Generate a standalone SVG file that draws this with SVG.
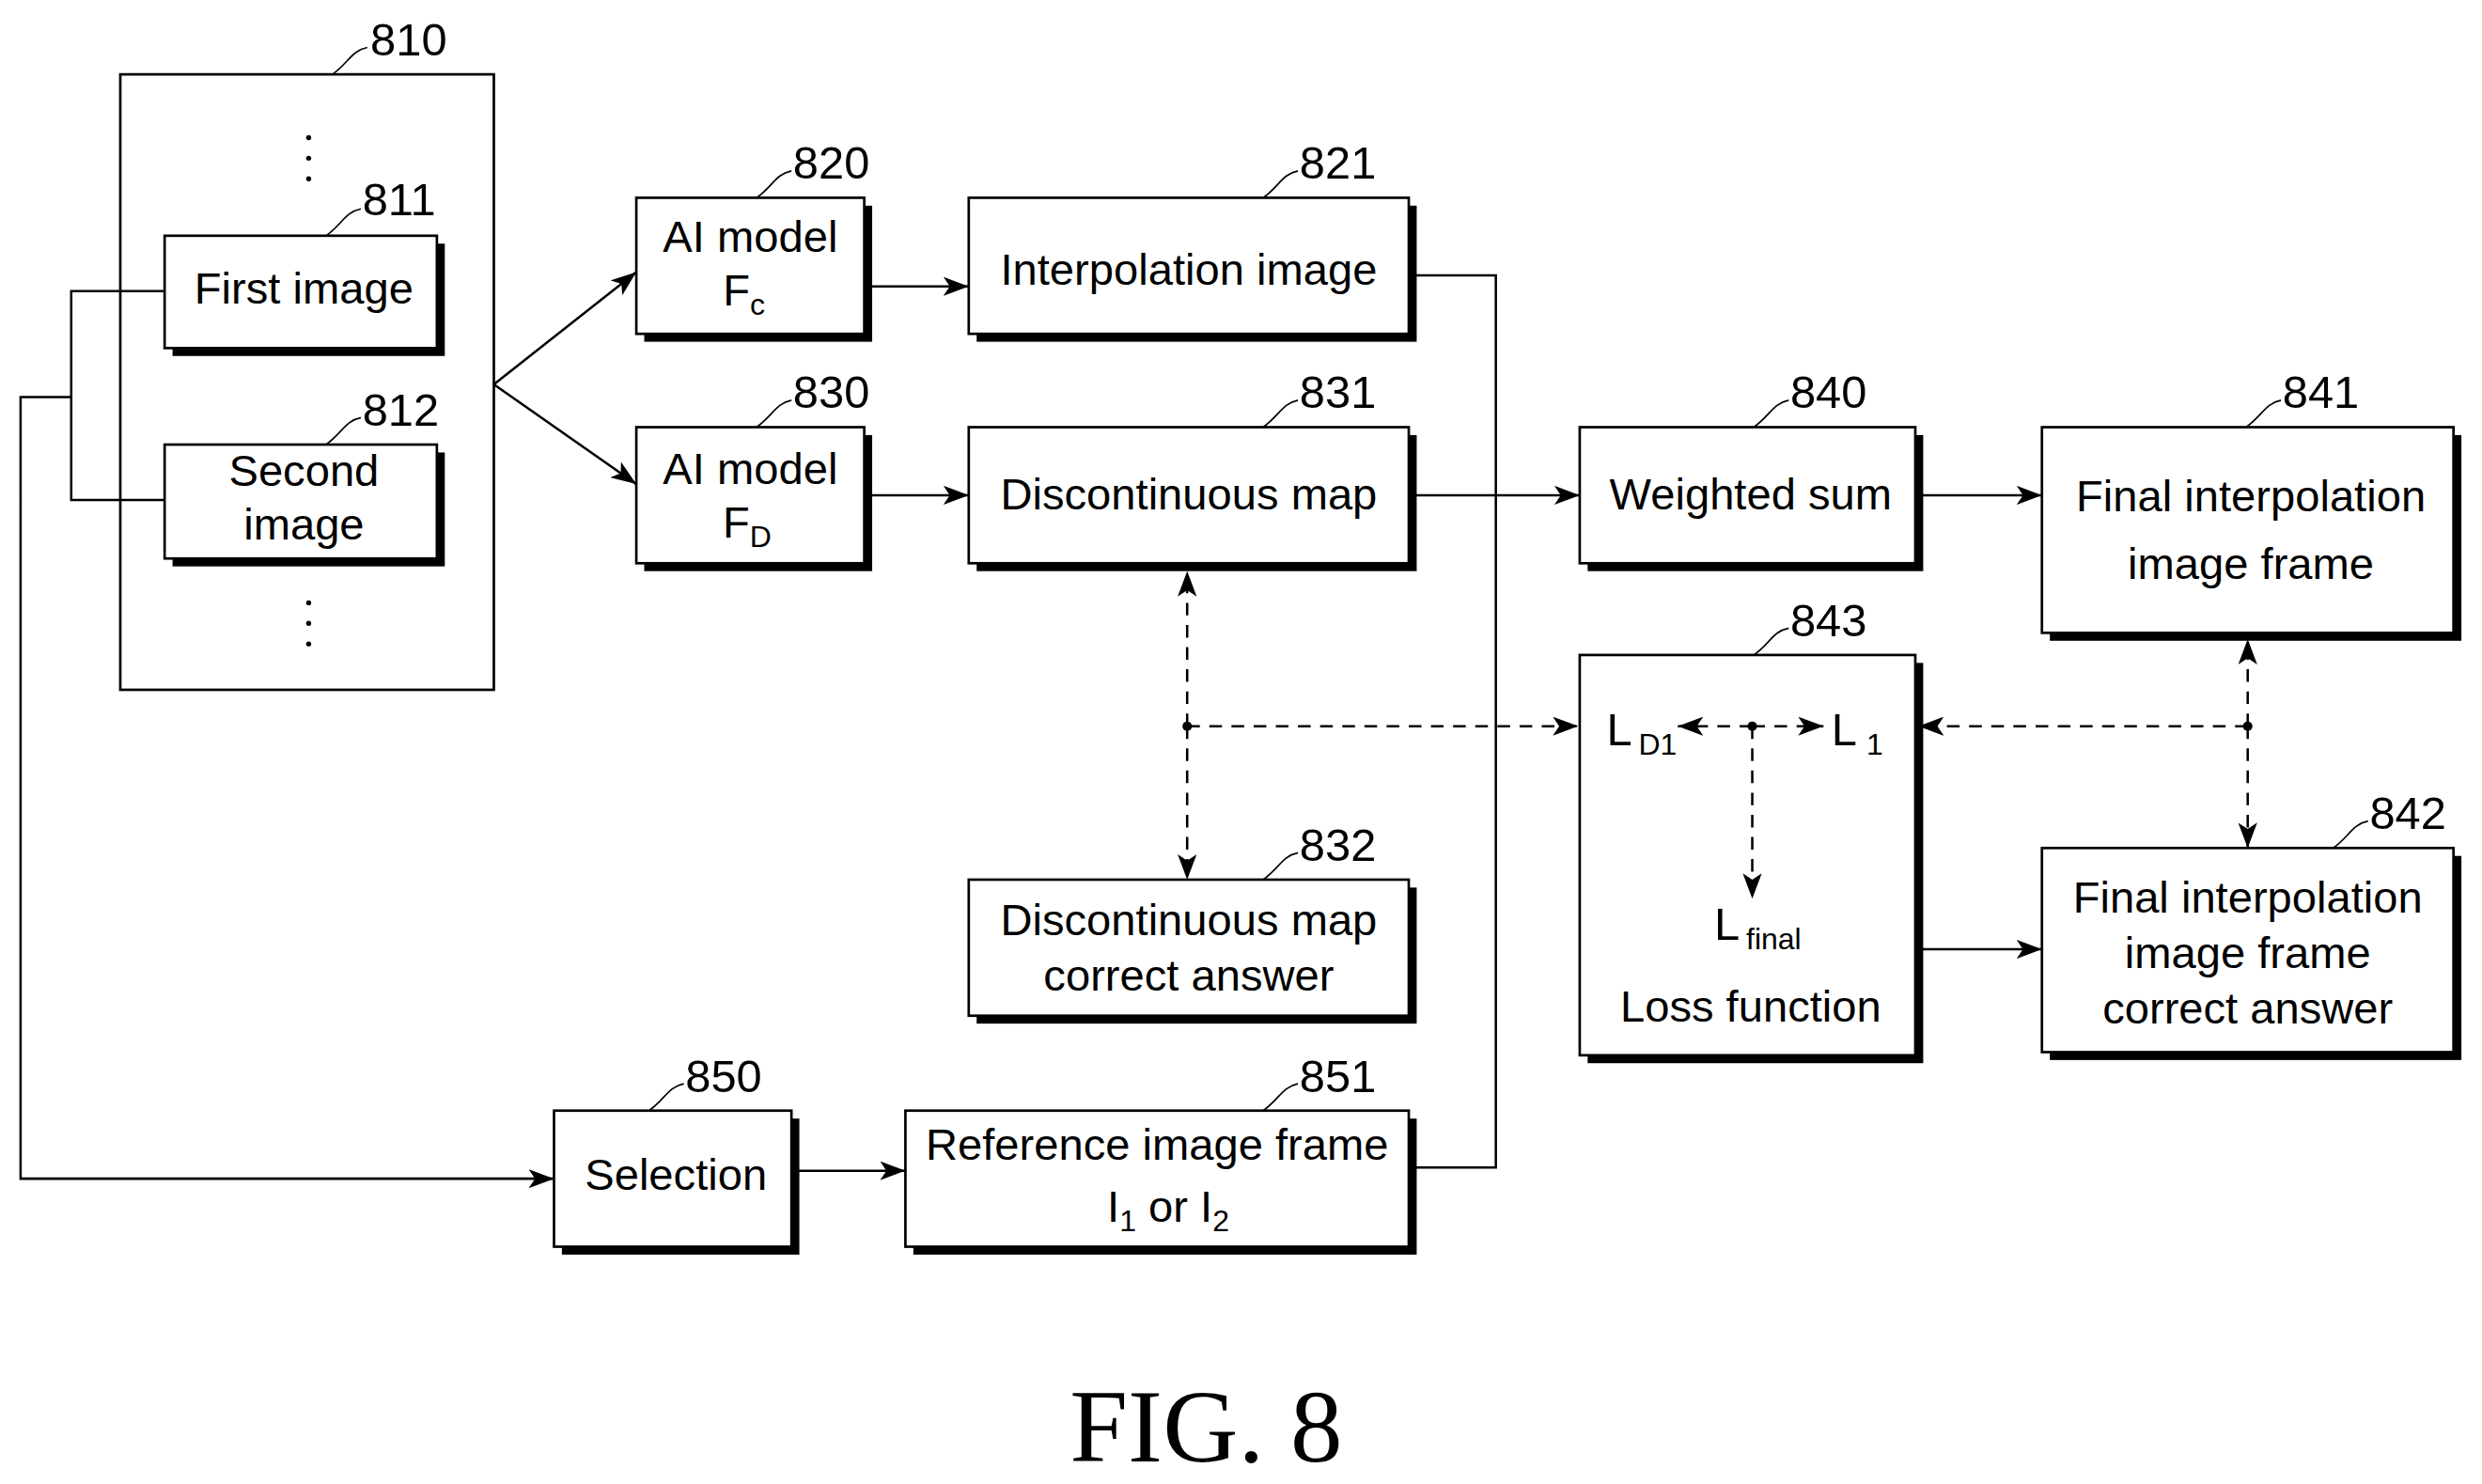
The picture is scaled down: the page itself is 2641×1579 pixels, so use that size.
<svg xmlns="http://www.w3.org/2000/svg" width="2641" height="1579" viewBox="0 0 2641 1579">
<style>
.t{font-family:"Liberation Sans Narrow","Liberation Sans",Arial,sans-serif;font-size:28px;fill:#000;text-anchor:middle}
.n{font-family:"Liberation Sans Narrow","Liberation Sans",Arial,sans-serif;font-size:29px;fill:#000}
.b{fill:#fff;stroke:#000;stroke-width:1.6}
.s{fill:#000}
.l{fill:none;stroke:#000;stroke-width:1.5}
.d{fill:none;stroke:#000;stroke-width:1.5;stroke-dasharray:8,6}
.ld{fill:none;stroke:#000;stroke-width:1}
</style>
<defs>
<marker id="a" viewBox="0 0 16 12" refX="16" refY="6" markerWidth="16" markerHeight="12" markerUnits="userSpaceOnUse" orient="auto-start-reverse"><path d="M0,0 L16,6 L0,12 L4,6 Z" fill="#000"/></marker>
</defs>
<rect width="2641" height="1579" fill="#fff"/>
<g transform="scale(1.6843,1.6834)">
<g id="n810">
<rect class="b" x="76" y="47" width="236" height="389"/>
<path class="ld" d="M210,47 C220,40 222,32 232,30"/><text class="n" x="234" y="35">810</text>
<g class="s"><circle cx="195" cy="87" r="1.6"/><circle cx="195" cy="100" r="1.6"/><circle cx="195" cy="113" r="1.6"/><circle cx="195" cy="381" r="1.6"/><circle cx="195" cy="394" r="1.6"/><circle cx="195" cy="407" r="1.6"/></g>
</g>
<g id="n811"><rect class="s" x="109" y="154" width="172" height="71"/><rect class="b" x="104" y="149" width="172" height="71"/><text class="t" x="192" y="192">First image</text>
<path class="ld" d="M206,149 C216,142 218,134 228,132"/><text class="n" x="229" y="136">811</text></g>
<g id="n812"><rect class="s" x="109" y="286" width="172" height="72"/><rect class="b" x="104" y="281" width="172" height="72"/><text class="t" x="192" y="307">Second</text><text class="t" x="192" y="341">image</text>
<path class="ld" d="M206,281 C216,274 218,266 228,264"/><text class="n" x="229" y="269">812</text></g>
<g id="n820"><rect class="s" x="407" y="130" width="144" height="86"/><rect class="b" x="402" y="125" width="144" height="86"/><text class="t" x="474" y="159">AI model</text><text class="t" x="470" y="193">F<tspan font-size="19" dy="6">c</tspan></text>
<path class="ld" d="M478,125 C488,118 490,110 500,108"/><text class="n" x="501" y="113">820</text></g>
<g id="n830"><rect class="s" x="407" y="275" width="144" height="86"/><rect class="b" x="402" y="270" width="144" height="86"/><text class="t" x="474" y="306">AI model</text><text class="t" x="472" y="340">F<tspan font-size="19" dy="6">D</tspan></text>
<path class="ld" d="M478,270 C488,263 490,255 500,253"/><text class="n" x="501" y="258">830</text></g>
<g id="n821"><rect class="s" x="617" y="130" width="278" height="86"/><rect class="b" x="612" y="125" width="278" height="86"/><text class="t" x="751" y="180">Interpolation image</text>
<path class="ld" d="M798,125 C808,118 810,110 820,108"/><text class="n" x="821" y="113">821</text></g>
<g id="n831"><rect class="s" x="617" y="275" width="278" height="86"/><rect class="b" x="612" y="270" width="278" height="86"/><text class="t" x="751" y="322">Discontinuous map</text>
<path class="ld" d="M798,270 C808,263 810,255 820,253"/><text class="n" x="821" y="258">831</text></g>
<g id="n832"><rect class="s" x="617" y="561" width="278" height="86"/><rect class="b" x="612" y="556" width="278" height="86"/><text class="t" x="751" y="591">Discontinuous map</text><text class="t" x="751" y="626">correct answer</text>
<path class="ld" d="M798,556 C808,549 810,541 820,539"/><text class="n" x="821" y="544">832</text></g>
<g id="n840"><rect class="s" x="1003" y="275" width="212" height="86"/><rect class="b" x="998" y="270" width="212" height="86"/><text class="t" x="1106" y="322">Weighted sum</text>
<path class="ld" d="M1108,270 C1118,263 1120,255 1130,253"/><text class="n" x="1131" y="258">840</text></g>
<g id="n841"><rect class="s" x="1295" y="275" width="260" height="130"/><rect class="b" x="1290" y="270" width="260" height="130"/><text class="t" x="1422" y="323">Final interpolation</text><text class="t" x="1422" y="366">image frame</text>
<path class="ld" d="M1419,270 C1429,263 1431,255 1441,253"/><text class="n" x="1442" y="258">841</text></g>
<g id="n843"><rect class="s" x="1003" y="419" width="212" height="253"/><rect class="b" x="998" y="414" width="212" height="253"/>
<text class="n" x="1015" y="471">L<tspan font-size="19" dx="4" dy="6">D1</tspan></text>
<text class="n" x="1157" y="471">L<tspan font-size="19" dx="6" dy="6">1</tspan></text>
<text class="n" x="1083" y="594">L<tspan font-size="19" dx="4" dy="6">final</tspan></text>
<text class="t" x="1106" y="646">Loss function</text>
<path class="ld" d="M1108,414 C1118,407 1120,399 1130,397"/><text class="n" x="1131" y="402">843</text></g>
<g id="n842"><rect class="s" x="1295" y="541" width="260" height="129"/><rect class="b" x="1290" y="536" width="260" height="129"/><text class="t" x="1420" y="577">Final interpolation</text><text class="t" x="1420" y="612">image frame</text><text class="t" x="1420" y="647">correct answer</text>
<path class="ld" d="M1474,536 C1484,529 1486,521 1496,519"/><text class="n" x="1497" y="524">842</text></g>
<g id="n850"><rect class="s" x="355" y="707" width="150" height="86"/><rect class="b" x="350" y="702" width="150" height="86"/><text class="t" x="427" y="752">Selection</text>
<path class="ld" d="M410,702 C420,695 422,687 432,685"/><text class="n" x="433" y="690">850</text></g>
<g id="n851"><rect class="s" x="577" y="707" width="318" height="86"/><rect class="b" x="572" y="702" width="318" height="86"/><text class="t" x="731" y="733">Reference image frame</text><text class="t" x="738" y="772">I<tspan font-size="19" dy="6">1</tspan><tspan dy="-6"> or I</tspan><tspan font-size="19" dy="6">2</tspan></text>
<path class="ld" d="M798,702 C808,695 810,687 820,685"/><text class="n" x="821" y="690">851</text></g>
<g id="connectors">
<path class="l" d="M104,184 H45 V316 H104 M45,251 H13 V745 H350" marker-end="url(#a)"/>
<path class="l" d="M312,243 L402,172" marker-end="url(#a)"/>
<path class="l" d="M312,243 L402,306" marker-end="url(#a)"/>
<path class="l" d="M546,181 H612" marker-end="url(#a)"/>
<path class="l" d="M546,313 H612" marker-end="url(#a)"/>
<path class="l" d="M890,313 H998" marker-end="url(#a)"/>
<path class="l" d="M1210,313 H1290" marker-end="url(#a)"/>
<path class="l" d="M890,174 H945 V738 H890"/>
<path class="l" d="M500,740 H572" marker-end="url(#a)"/>
<path class="l" d="M1210,600 H1290" marker-end="url(#a)"/>
<circle cx="750" cy="459" r="3" fill="#000"/>
<path class="d" d="M750,459 V361" marker-end="url(#a)"/>
<path class="d" d="M750,459 V556" marker-end="url(#a)"/>
<path class="d" d="M750,459 H997" marker-end="url(#a)"/>
<circle cx="1107" cy="459" r="3" fill="#000"/>
<path class="d" d="M1107,459 H1060" marker-end="url(#a)"/>
<path class="d" d="M1107,459 H1152" marker-end="url(#a)"/>
<path class="d" d="M1107,459 V568" marker-end="url(#a)"/>
<circle cx="1420" cy="459" r="3" fill="#000"/>
<path class="d" d="M1420,459 H1212" marker-end="url(#a)"/>
<path class="d" d="M1420,459 V404" marker-end="url(#a)"/>
<path class="d" d="M1420,459 V536" marker-end="url(#a)"/>
</g>
<text x="762" y="924" font-family="'Liberation Serif',serif" font-size="66" text-anchor="middle">FIG. 8</text>
</g>
</svg>
